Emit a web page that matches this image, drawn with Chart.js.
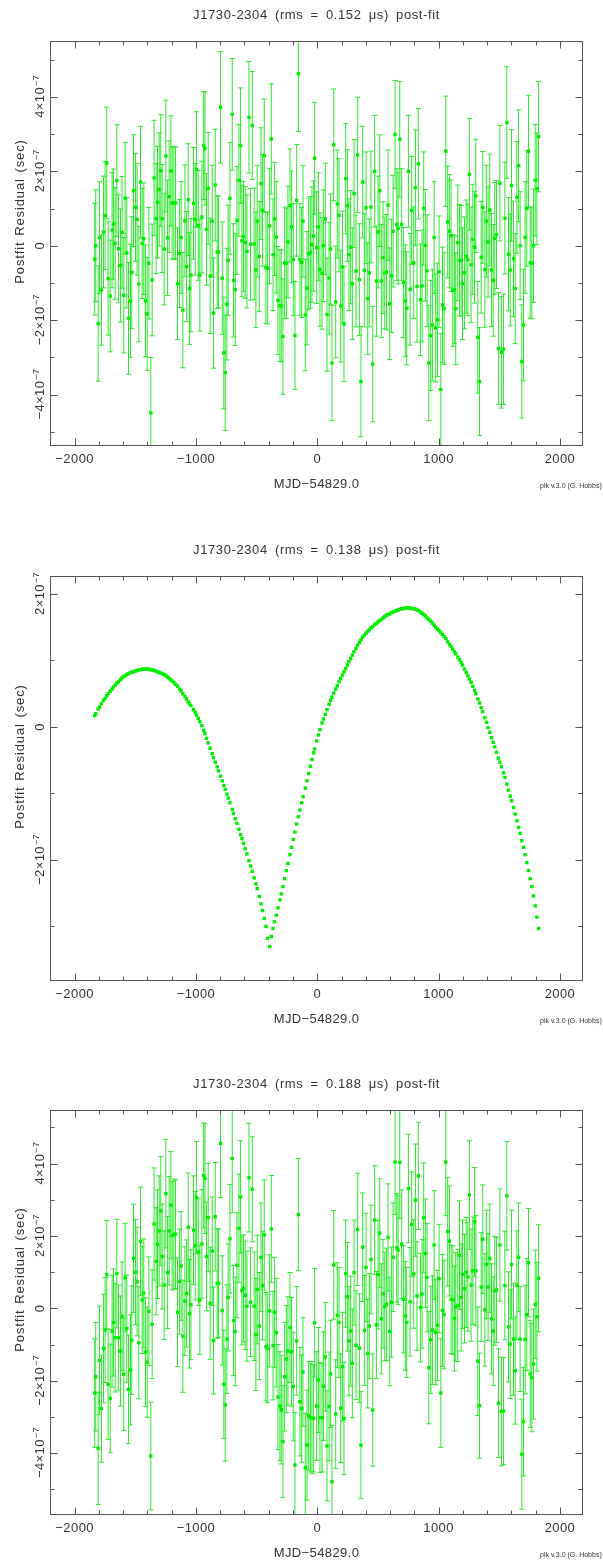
<!DOCTYPE html>
<html>
<head>
<meta charset="utf-8">
<script src="https://cdn.jsdelivr.net/npm/chart.js@4.4.1/dist/chart.umd.min.js"></script>
<style>
body { margin: 0; background: #fff; }
#wrap { position: relative; width: 603px; height: 1560px; }
#wrap canvas { position: absolute; left: 0; }
</style>
</head>
<body>
<div id="wrap">
<canvas id="c1" width="603" height="490" style="top:0px"></canvas>
<canvas id="c2" width="603" height="490" style="top:535px"></canvas>
<canvas id="c3" width="603" height="490" style="top:1069px"></canvas>
</div>
<script>
// epochs, days relative to MJD 54829.0
var mjd = [
  -1834,-1826,-1806,-1795,-1779,-1762,-1749,-1735,-1724,-1707,
  -1691,-1680,-1666,-1652,-1639,-1622,-1609,-1595,-1584,-1570,
  -1556,-1540,-1529,-1515,-1498,-1485,-1471,-1457,-1443,-1430,
  -1416,-1402,-1388,-1372,-1361,-1345,-1328,-1317,-1303,-1290,
  -1279,-1262,-1248,-1234,-1221,-1207,-1196,-1182,-1168,-1152,
  -1135,-1122,-1108,-1091,-1077,-1064,-1053,-1042,-1020,-1006,
  -995,-981,-968,-951,-937,-926,-913,-899,-883,-866,
  -855,-841,-825,-814,-797,-783,-770,-759,-745,-734,
  -720,-701,-690,-676,-662,-646,-632,-621,-608,-594,
  -580,-563,-550,-536,-520,-506,-495,-478,-464,-451,
  -437,-423,-409,-393,-379,-365,-352,-338,-324,-308,
  -297,-283,-269,-255,-242,-225,-212,-198,-184,-170,
  -156,-143,-129,-118,-99,-85,-71,-57,-44,-30,
  -22,-5,9,22,39,50,
  66,80,97,110,121,135,152,165,179,193,
  207,220,234,248,261,275,289,303,319,333,
  347,360,374,388,402,416,429,443,457,473,
  487,501,515,528,542,556,570,583,597,611,
  625,641,655,666,680,696,710,726,737,751,
  765,778,795,809,822,833,850,864,877,891,
  905,919,935,949,963,976,990,1004,1018,1032,
  1045,1059,1075,1089,1103,1117,1130,1141,1158,1172,
  1186,1197,1213,1227,1241,1254,1268,1282,1296,1307,
  1323,1337,1351,1364,1381,1394,1408,1422,1436,1450,
  1463,1477,1494,1505,1518,1535,1546,1562,1576,1590,
  1601,1617,1631,1645,1659,1672,1686,1700,1713,1727,
  1741,1755,1768,1782,1796,1810,1824
];

// residuals in units of 1e-7 s
var resid1 = [
  -0.36,0,-2.09,0.22,-1.19,0.37,0.81,2.22,-0.88,-1.35,
  0.42,0.58,0.06,1.75,-0.08,-0.53,0.36,-1.33,1.28,-0.19,
  -1.95,-1.48,-0.72,1.48,1.03,0.71,-1.03,1.71,0.06,0.19,
  -1.48,-1.83,-0.47,-4.49,-0.92,1.82,0.73,1.17,1.51,2.02,
  0.73,-0.09,2.41,0.21,1.32,2.01,1.15,1.15,1.15,-1.02,
  -0.21,0.22,-1.73,0.67,-0.56,1.24,-1.15,-0.79,1.14,0.71,
  2.05,0.54,-0.79,0.77,2.69,2.61,0.44,1.54,-0.81,0.66,
  -1.81,1.63,-0.17,-0.17,3.72,-0.87,-2.88,-3.41,-1.57,-0.39,
  1.27,3.53,-0.93,-1.18,0.68,1.76,2.69,0.13,0.25,0.09,
  -0.15,3.45,0.04,3.23,0.05,-0.65,0.66,-0.29,1.67,0.95,
  2.42,-0.59,-0.6,0.53,2.87,-0.24,0.72,0.23,-1.47,-1.61,
  -1.62,-2.44,-0.46,-0.47,0.1,1.08,0.51,-0.37,-2.41,1.22,
  4.62,-0.37,-0.45,0.66,-1.86,-1.14,-0.22,-0.18,0.03,0.26,
  2.35,-0.05,0.51,-0.64,-0.74,0,
  0.72,-1.85,-0.87,-0.09,-3.15,2.71,-1.51,1.12,0.82,-1.62,
  -0.57,-2.10,1.80,1.08,-0.24,-0.04,-1.02,1.40,-0.68,2.44,
  -0.91,-3.65,1.71,-0.66,1.02,-1.42,-0.73,1.04,-3.18,2.00,
  -0.95,0.37,1.48,-0.95,-0.32,-0.73,-0.71,1.09,-1.56,-0.81,
  0.39,2.99,0.57,0.47,2.86,0.57,-0.99,-1.48,-1.68,2.00,
  -1.17,0.95,-0.46,1.56,-1.09,2.20,-1.45,-1.08,1.00,0.01,
  -0.67,-3.15,-2.41,-2.13,0.22,-2.21,-1.99,-0.70,-3.86,-1.59,
  -1.69,2.54,0.64,0.39,0.27,-1.20,-1.18,-1.69,0.08,-0.39,
  -0.40,-1.02,-0.73,-0.29,-0.38,1.92,-0.51,0.17,-0.04,1.34,
  -2.46,-3.65,-0.31,1.03,-0.64,0.66,0.10,0.96,-0.65,-0.93,
  0.20,0.30,-2.76,1.68,-2.86,-2.78,0.74,3.31,-0.23,-0.65,
  1.62,-0.35,-1.15,1.30,2.15,0,-3.11,-2.13,0.22,1.00,
  2.54,-0.46,-0.46,0,1.76,1.53,2.93
];

var resid2 = [
  0.17,0.20,0.27,0.30,0.35,0.40,0.43,0.47,0.50,0.54,
  0.57,0.60,0.63,0.66,0.68,0.71,0.74,0.76,0.77,0.79,
  0.80,0.82,0.82,0.83,0.84,0.85,0.86,0.86,0.87,0.87,
  0.87,0.87,0.87,0.86,0.86,0.85,0.84,0.83,0.82,0.81,
  0.80,0.79,0.77,0.75,0.73,0.71,0.69,0.67,0.64,0.61,
  0.57,0.54,0.50,0.46,0.42,0.38,0.35,0.32,0.26,0.22,
  0.18,0.13,0.08,0.02,-0.05,-0.10,-0.17,-0.24,-0.32,-0.40,
  -0.46,-0.53,-0.60,-0.66,-0.74,-0.81,-0.88,-0.94,-1.01,-1.07,
  -1.14,-1.24,-1.30,-1.38,-1.45,-1.54,-1.62,-1.68,-1.75,-1.83,
  -1.91,-2.01,-2.09,-2.17,-2.27,-2.36,-2.43,-2.55,-2.66,-2.76,
  -2.88,-3.00,-3.18,-3.30,-3.15,-3.03,-2.93,-2.83,-2.72,-2.60,
  -2.51,-2.40,-2.28,-2.16,-2.05,-1.92,-1.81,-1.69,-1.58,-1.46,
  -1.35,-1.25,-1.14,-1.05,-0.92,-0.81,-0.70,-0.59,-0.49,-0.39,
  -0.33,-0.21,-0.12,-0.04,0.06,0.12,
  0.19,0.26,0.34,0.40,0.45,0.51,0.57,0.62,0.68,0.73,
  0.78,0.83,0.88,0.93,0.98,1.03,1.08,1.13,1.18,1.23,
  1.27,1.31,1.35,1.38,1.41,1.44,1.46,1.49,1.51,1.54,
  1.56,1.58,1.60,1.62,1.64,1.66,1.68,1.69,1.70,1.72,
  1.73,1.74,1.75,1.76,1.77,1.78,1.78,1.79,1.79,1.79,
  1.79,1.78,1.78,1.77,1.76,1.75,1.73,1.71,1.69,1.67,
  1.64,1.62,1.59,1.56,1.53,1.50,1.47,1.45,1.42,1.39,
  1.36,1.33,1.28,1.24,1.21,1.17,1.13,1.10,1.05,1.01,
  0.97,0.93,0.87,0.82,0.77,0.72,0.67,0.61,0.55,0.50,
  0.42,0.36,0.29,0.23,0.14,0.07,-0.01,-0.08,-0.16,-0.23,
  -0.30,-0.38,-0.47,-0.53,-0.60,-0.69,-0.76,-0.86,-0.95,-1.04,
  -1.11,-1.21,-1.31,-1.41,-1.51,-1.60,-1.71,-1.81,-1.92,-2.04,
  -2.16,-2.28,-2.40,-2.54,-2.69,-2.86,-3.03
];

var resid3 = [
  -2.34,-1.89,-3.87,-1.44,-2.77,-1.11,-0.60,0.93,-2.10,-2.49,
  -0.63,-0.39,-0.81,0.96,-0.81,-1.18,-0.22,-1.82,0.85,-0.56,
  -2.24,-1.70,-0.88,1.38,1.00,0.74,-0.95,1.85,0.23,0.42,
  -1.21,-1.49,-0.08,-4.08,-0.44,2.33,1.30,1.77,2.14,2.69,
  1.43,0.64,3.17,0.99,2.14,2.85,2.01,2.05,2.05,-0.11,
  0.74,1.17,-0.77,0.20,0.41,2.24,-0.15,0.10,2.16,1.73,
  3.06,1.56,0.23,1.78,3.67,3.59,1.43,2.51,0.14,1.58,
  -0.89,2.53,0.69,0.69,4.56,-0.06,-2.10,-2.67,-0.85,0.30,
  1.92,4.14,-0.34,-0.64,1.19,2.21,3.08,0.49,0.55,0.36,
  0.06,3.61,0.17,3.29,0.06,-0.72,0.52,-0.49,1.41,0.63,
  2.03,-1.06,-1.11,-0.07,2.19,-1.03,-0.11,-0.67,-2.45,-2.70,
  -2.80,-3.68,-1.89,-1.40,-1.18,-0.53,-1.20,-2.16,-4.33,-0.90,
  2.59,-2.58,-2.77,-1.76,-4.40,-3.78,-2.97,-3.02,-3.02,-3.04,
  -0.40,-2.70,-1.98,-3.02,-3.02,-2.15,
  -1.34,-3.80,-2.71,-1.81,-4.79,1.20,-2.92,-0.19,-0.39,-2.76,
  -1.61,-3.04,0.96,0.32,-0.90,-0.63,-1.52,0.99,-1.02,2.18,
  -1.10,-3.78,1.69,-0.61,1.13,-1.25,-0.49,1.35,-2.81,2.44,
  -0.46,0.93,2.08,-0.29,0.40,0.05,0.11,1.96,-0.64,0.17,
  1.41,4.04,1.67,1.61,4.03,1.77,0.25,-0.21,-0.39,3.31,
  0.18,2.32,0.95,2.99,0.34,3.66,0.02,0.40,2.50,1.52,
  0.85,-1.64,-0.87,-0.60,1.75,-0.66,-0.47,0.82,-2.34,-0.06,
  -0.17,4.04,2.12,1.86,0.25,0.23,-0.28,0.04,0.08,1.47,
  0.30,0.94,0.54,0.99,0.87,3.13,0.64,1.04,2.39,1.04,
  -1.46,-2.69,0.59,1.91,-0.04,1.21,0.59,1.38,-0.29,-0.63,
  0.48,0.51,-2.62,1.75,-2.85,-2.84,0.63,3.11,-0.51,-0.99,
  1.21,-0.85,-1.72,0.64,1.41,-0.85,-4.03,-3.13,-0.86,-0.17,
  1.26,-1.81,-1.91,-1.54,0.11,-0.23,0.83
];

// TOA uncertainties, 1e-7 s (same TOAs in panel 1 and 3)
var toaErr = [
  1.50,1.50,1.55,1.50,1.48,1.50,1.45,1.50,1.52,1.50,1.55,1.48,1.50,1.50,1.45,1.52,1.50,
  1.55,1.50,1.48,1.50,1.52,1.50,1.50,1.45,1.50,1.55,1.50,1.48,1.50,1.50,1.52,1.50,1.49,
  1.50,1.55,1.48,1.50,1.52,1.50,1.45,1.50,1.50,1.55,1.50,1.48,1.50,1.52,1.50,1.50,1.45,
  1.50,1.55,1.50,1.48,1.50,1.50,1.52,1.50,1.50,1.55,1.48,1.50,1.50,1.45,1.52,1.50,1.50,
  1.55,1.50,1.48,1.50,1.52,1.50,1.50,1.51,1.50,1.55,1.50,1.48,1.50,1.50,1.52,1.50,1.45,
  1.50,1.55,1.50,1.48,1.50,1.52,1.50,1.50,1.45,1.50,1.55,1.50,1.48,1.50,1.50,1.52,1.50,
  1.50,1.55,1.48,1.50,1.52,1.50,1.45,1.50,1.50,1.55,1.50,1.48,1.50,1.52,1.50,1.50,1.45,
  1.50,1.55,1.50,1.48,1.50,1.50,1.52,1.50,1.50,1.55,1.48,1.50,1.50,1.45,1.52,1.50,1.50,
  1.50,1.52,1.50,1.48,1.55,1.50,1.50,1.45,1.52,1.50,1.50,1.55,1.48,1.50,1.50,1.52,1.50,
  1.45,1.50,1.55,1.50,1.48,1.50,1.52,1.50,1.50,1.45,1.50,1.55,1.50,1.48,1.50,1.50,1.52,
  1.50,1.50,1.55,1.48,1.50,1.52,1.50,1.45,1.50,1.50,1.55,1.50,1.48,1.50,1.52,1.50,1.50,
  1.45,1.50,1.55,1.50,1.48,1.50,1.50,1.52,1.50,1.50,1.55,1.48,1.50,1.50,1.45,1.52,1.50,
  1.50,1.55,1.50,1.48,1.50,1.52,1.50,1.50,1.45,1.50,1.55,1.50,1.48,1.50,1.50,1.52,1.50,
  1.50,1.55,1.48,1.50,1.52,1.50,1.45,1.50,1.50,1.55,1.50,1.48,1.50,1.52,1.50,1.50,1.45,
  1.50,1.55,1.50,1.48,1.50,1.50,1.52,1.50,1.50,1.55,1.48,1.50,1.50,1.45,1.52,1.50,1.50,
  1.55,1.50,1.48,1.50,1.52,1.50,1.50,1.48
];

var xTicks = [-2000, -1000, 0, 1000, 2000];
var yTicks1 = [-4, -2, 0, 2, 4];
var yTicks2 = [-2, 0, 2];
var yTicks3 = [-4, -2, 0, 2, 4];
var rmsVals = ['0.152', '0.138', '0.188'];

var FONT = '"Liberation Sans", Arial, sans-serif';
var INK = '#555';

function spacing(ctx, ls, ws) {
    if ('letterSpacing' in ctx) ctx.letterSpacing = ls;
    if ('wordSpacing' in ctx) ctx.wordSpacing = ws;
}

function fmtX(v) {
    return v < 0 ? '\u2212' + Math.abs(v) : String(v);
}

// frame, inward ticks, labels and error bars in the style of plk
var plkAxes = {
    id: 'plkAxes',
    beforeDatasetsDraw: function (chart, args, o) {
        if (!o.err) return;
        var ctx = chart.ctx, a = chart.chartArea;
        var x = chart.scales.x, y = chart.scales.y;
        ctx.save();
        ctx.beginPath();
        ctx.rect(a.left, a.top, a.right - a.left, a.bottom - a.top);
        ctx.clip();
        ctx.strokeStyle = 'rgb(45,232,45)';
        ctx.lineWidth = 1;
        ctx.beginPath();
        for (var i = 0; i < o.ys.length; i++) {
            var px = x.getPixelForValue(mjd[i]);
            var t = y.getPixelForValue(o.ys[i] + o.err[i]);
            var b = y.getPixelForValue(o.ys[i] - o.err[i]);
            ctx.moveTo(px, t); ctx.lineTo(px, b);
            ctx.moveTo(px - 2.5, t); ctx.lineTo(px + 2.5, t);
            ctx.moveTo(px - 2.5, b); ctx.lineTo(px + 2.5, b);
        }
        ctx.stroke();
        ctx.restore();
    },
    afterDraw: function (chart, args, o) {
        var ctx = chart.ctx, a = chart.chartArea;
        var x = chart.scales.x, y = chart.scales.y;
        var L = Math.round(a.left) + 0.5, R = Math.round(a.right) - 0.5;
        var T = Math.round(a.top) + 0.5, B = Math.round(a.bottom) - 0.5;
        ctx.save();
        ctx.strokeStyle = INK;
        ctx.lineWidth = 1;
        ctx.strokeRect(L, T, R - L, B - T);
        ctx.beginPath();
        var v, p, len;
        for (v = Math.ceil(x.min / 200) * 200; v <= x.max; v += 200) {
            p = Math.round(x.getPixelForValue(v)) + 0.5;
            len = v % 1000 === 0 ? 7 : 4;
            ctx.moveTo(p, B); ctx.lineTo(p, B - len);
            ctx.moveTo(p, T); ctx.lineTo(p, T + len);
        }
        for (v = Math.ceil(y.min); v <= y.max; v += 1) {
            p = Math.round(y.getPixelForValue(v)) + 0.5;
            len = v % 2 === 0 ? 7 : 4;
            ctx.moveTo(L, p); ctx.lineTo(L + len, p);
            ctx.moveTo(R, p); ctx.lineTo(R - len, p);
        }
        ctx.stroke();

        var cx = (a.left + a.right) / 2;
        ctx.fillStyle = '#333';
        ctx.textAlign = 'center';
        ctx.textBaseline = 'alphabetic';

        // title
        ctx.font = '13px ' + FONT;
        spacing(ctx, '0.6px', '3px');
        ctx.fillText(o.title, cx, 19);

        // x tick labels and x title
        spacing(ctx, '0.4px', '0px');
        xTicks.forEach(function (t) {
            ctx.fillText(fmtX(t), x.getPixelForValue(t), a.bottom + 17);
        });
        ctx.fillText('MJD\u221254829.0', cx, a.bottom + 42);

        // y tick labels, rotated, with power of ten
        o.yTicks.forEach(function (t) {
            var py = y.getPixelForValue(t);
            ctx.save();
            ctx.translate(44, py);
            ctx.rotate(-Math.PI / 2);
            ctx.textAlign = 'left';
            if (t === 0) {
                ctx.font = '13px ' + FONT;
                var w0 = ctx.measureText('0').width;
                ctx.fillText('0', -w0 / 2, 0);
            } else {
                var main = (t < 0 ? '\u2212' : '') + Math.abs(t) + '\u00d710';
                ctx.font = '13px ' + FONT;
                var w1 = ctx.measureText(main).width;
                ctx.font = '9px ' + FONT;
                var w2 = ctx.measureText('\u22127').width;
                var s = -(w1 + w2) / 2;
                ctx.font = '13px ' + FONT;
                ctx.fillText(main, s, 0);
                ctx.font = '9px ' + FONT;
                ctx.fillText('\u22127', s + w1 + 1, -5);
            }
            ctx.restore();
        });

        // y title
        ctx.save();
        ctx.font = '13px ' + FONT;
        spacing(ctx, '0.9px', '1px');
        ctx.translate(24, (a.top + a.bottom) / 2 - o.titleShift);
        ctx.rotate(-Math.PI / 2);
        ctx.textAlign = 'center';
        ctx.fillText('Postfit Residual (sec)', 0, 0);
        ctx.restore();

        // credit
        spacing(ctx, '0px', '0px');
        ctx.font = '7px ' + FONT;
        ctx.textAlign = 'left';
        ctx.fillText('plk v.3.0 (G. Hobbs)', 540, a.bottom + 42);
        ctx.restore();
    }
};

function makeChart(id, ys, err, ymin, ymax, yTicks, rms, shift) {
    var pts = ys.map(function (v, i) { return { x: mjd[i], y: v }; });
    return new Chart(document.getElementById(id), {
        type: 'scatter',
        data: {
            datasets: [{
                data: pts,
                pointStyle: 'rect',
                pointRadius: 2.4,
                pointBorderWidth: 0,
                backgroundColor: '#00ee00',
                borderColor: '#00ee00'
            }]
        },
        options: {
            responsive: false,
            animation: false,
            devicePixelRatio: 1,
            layout: { padding: { left: 50, right: 20, top: 41, bottom: 44 } },
            scales: {
                x: { type: 'linear', min: -2203, max: 2190, display: false },
                y: { type: 'linear', min: ymin, max: ymax, display: false }
            },
            plugins: {
                legend: { display: false },
                tooltip: { enabled: false },
                plkAxes: {
                    ys: ys, err: err, yTicks: yTicks, titleShift: shift,
                    title: 'J1730-2304 (rms = ' + rms + ' \u03bcs) post-fit'
                }
            }
        },
        plugins: [plkAxes]
    });
}

makeChart('c1', resid1, toaErr, -5.38, 5.50, yTicks1, rmsVals[0], 32);
makeChart('c2', resid2, null, -3.82, 2.27, yTicks2, rmsVals[1], 22);
makeChart('c3', resid3, toaErr, -5.71, 5.48, yTicks3, rmsVals[2], 33);
</script>
</body>
</html>
